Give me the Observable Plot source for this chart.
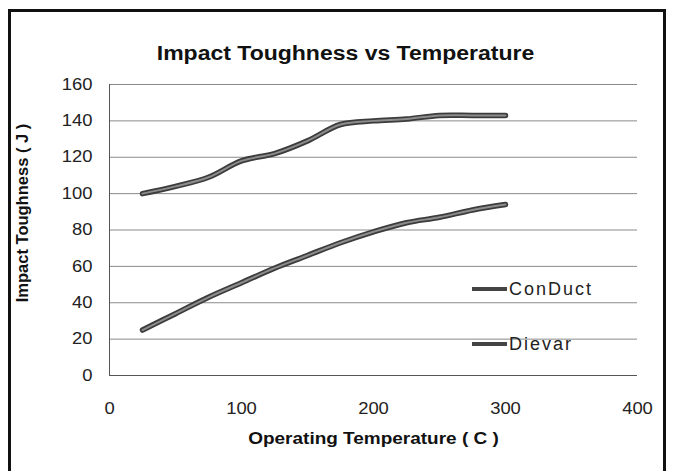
<!DOCTYPE html>
<html><head><meta charset="utf-8">
<script src="https://cdn.jsdelivr.net/npm/d3@7"></script>
<script src="https://cdn.jsdelivr.net/npm/@observablehq/plot@0.6"></script>
<style>
body{margin:0;background:#fff;overflow:hidden;}
#wrap{position:relative;width:677px;height:471px;font-family:"Liberation Sans",Arial,sans-serif;}
#frame{position:absolute;left:8px;top:9px;width:658px;height:480px;border:3px solid #111;box-sizing:border-box;}
#chart{position:absolute;left:0;top:0;}
.leg{position:absolute;font-size:18px;color:#222;line-height:1;}
.legline{position:absolute;width:35px;height:0;border-top:4px solid #444;}
</style></head>
<body><div id="wrap"><div id="frame"></div><div id="chart"></div></div>
<script>
const temps = [25, 50, 75, 100, 125, 150, 175, 200, 225, 250, 275, 300];
const conduct = [100, 104, 109, 118, 122, 129, 138, 140, 141, 143, 143, 143];
const dievar  = [25, 34, 43, 51, 59, 66, 73, 79, 84, 87, 91, 94];
const seriesNames = ["ConDuct", "Dievar"];
const yTicks = [0, 20, 40, 60, 80, 100, 120, 140, 160];
const xTicks = [0, 100, 200, 300, 400];
const titleText = "Impact Toughness vs Temperature";
const xLabel = "Operating Temperature ( C )";
const yLabel = "Impact Toughness ( J )";

const rows = [];
temps.forEach((t,i)=>{ rows.push({s:seriesNames[0],t,v:conduct[i]}); rows.push({s:seriesNames[1],t,v:dievar[i]}); });

const chart = Plot.plot({
  width: 677, height: 471,
  marginLeft: 109, marginRight: 40, marginTop: 84, marginBottom: 96,
  style: {fontFamily: '"Liberation Sans", Arial, sans-serif', background: "transparent", color: "#222"},
  x: {domain: [0, 400]},
  y: {domain: [0, 160]},
  marks: [
    Plot.ruleY(yTicks.filter(d=>d>0), {stroke: "#8a8a8a", strokeWidth: 1}),
    Plot.ruleY([0], {stroke: "#555", strokeWidth: 1}),
    Plot.ruleX([0], {stroke: "#555", strokeWidth: 1}),
    Plot.axisY({ticks: yTicks, tickSize: 0, tickPadding: 17, fontSize: 16, label: null}),
    Plot.axisX({ticks: xTicks, tickSize: 0, tickPadding: 27, fontSize: 16, label: null}),
    Plot.line(rows, {x: "t", y: "v", z: "s", curve: "catmull-rom", stroke: "#3c3c3c", strokeWidth: 5.5}),
    Plot.line(rows, {x: "t", y: "v", z: "s", curve: "catmull-rom", stroke: "#8c8c8c", strokeWidth: 2}),
    Plot.text([titleText], {frameAnchor: "top", dx: -28, dy: -31, fontSize: 20, fontWeight: "bold", lineAnchor: "middle", fill: "#111", className: "stretch"}),
    Plot.text([xLabel], {frameAnchor: "bottom", dy: 63, fontSize: 16.5, fontWeight: "bold", lineAnchor: "middle", fill: "#111", className: "stretch"}),
    Plot.text([yLabel], {frameAnchor: "left", dx: -87, dy: -17, rotate: -90, textAnchor: "middle", fontSize: 16.5, fontWeight: "bold", lineAnchor: "middle", fill: "#111"})
  ]
});
document.getElementById("chart").append(chart);

// horizontal stretch like the scanned original
chart.querySelectorAll("g[aria-label='x-axis tick label'] text, g[aria-label='y-axis tick label'] text, .stretch text").forEach(t=>{
  const w = t.getComputedTextLength();
  t.setAttribute("textLength", w*1.15);
  t.setAttribute("lengthAdjust", "spacingAndGlyphs");
});

// legend
const wrap = document.getElementById("wrap");
const legY = [289, 344];
seriesNames.forEach((n,i)=>{
  const l = document.createElement("div"); l.className="legline";
  l.style.left="472px"; l.style.top=(legY[i]-2)+"px"; wrap.append(l);
  const s = document.createElement("div"); s.className="leg"; s.textContent=n;
  s.style.left="509px"; s.style.top=(legY[i]-9)+"px"; s.style.letterSpacing="2px"; wrap.append(s);
});
</script></body></html>
